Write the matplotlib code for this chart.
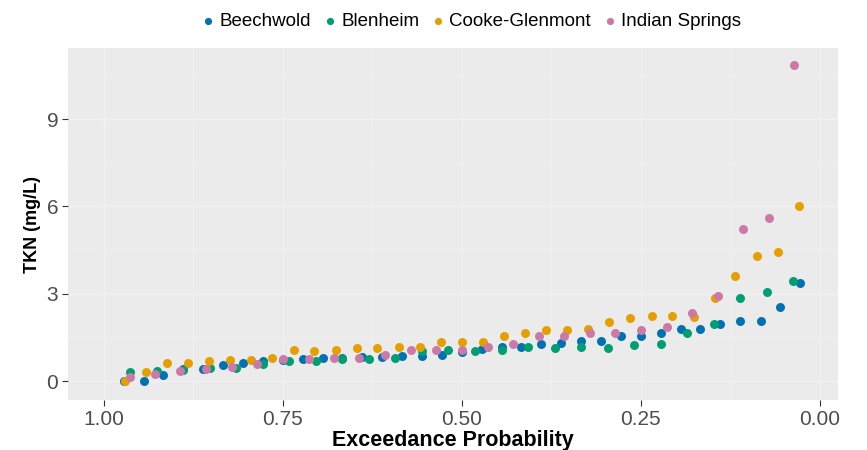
import numpy as np
import matplotlib
matplotlib.use("Agg")
import matplotlib.pyplot as plt
from matplotlib.ticker import MultipleLocator, FormatStrFormatter

plt.rcParams['font.family'] = ['Liberation Sans', 'DejaVu Sans']

sites = ["Beechwold", "Blenheim", "Cooke-Glenmont", "Indian Springs"]
colors = ["#0072B2", "#009E73", "#E69F00", "#CC79A7"]

# exceedance probability and TKN (mg/L) for each site
beech_p = [0.972, 0.944, 0.917, 0.889, 0.861, 0.833, 0.806, 0.778, 0.750, 0.722,
           0.694, 0.667, 0.639, 0.611, 0.583, 0.556, 0.528, 0.500, 0.472, 0.444,
           0.417, 0.389, 0.361, 0.333, 0.306, 0.278, 0.250, 0.222, 0.194, 0.167,
           0.139, 0.111, 0.083, 0.056, 0.028]
beech_tkn = [0.0, 0.0, 0.2, 0.4, 0.4, 0.55, 0.62, 0.69, 0.72, 0.76,
             0.79, 0.8, 0.83, 0.83, 0.86, 0.86, 0.9, 1.0, 1.1, 1.17,
             1.17, 1.27, 1.3, 1.37, 1.37, 1.55, 1.55, 1.65, 1.79, 1.79,
             1.96, 2.06, 2.06, 2.55, 3.38]

blen_p = [0.963, 0.926, 0.889, 0.852, 0.815, 0.778, 0.741, 0.704, 0.667, 0.630,
          0.593, 0.556, 0.519, 0.481, 0.444, 0.407, 0.370, 0.333, 0.296, 0.259,
          0.222, 0.185, 0.148, 0.111, 0.074, 0.037]
blen_tkn = [0.31, 0.34, 0.38, 0.45, 0.45, 0.58, 0.69, 0.69, 0.76, 0.76,
            0.79, 1.03, 1.07, 1.03, 1.07, 1.17, 1.14, 1.17, 1.14, 1.24,
            1.27, 1.65, 1.96, 2.86, 3.06, 3.44]

cooke_p = [0.971, 0.941, 0.912, 0.882, 0.853, 0.824, 0.794, 0.765, 0.735, 0.706,
           0.676, 0.647, 0.618, 0.588, 0.559, 0.529, 0.500, 0.471, 0.441, 0.412,
           0.382, 0.353, 0.324, 0.294, 0.265, 0.235, 0.206, 0.176, 0.147, 0.118,
           0.088, 0.059, 0.029]
cooke_tkn = [0.0, 0.31, 0.62, 0.62, 0.69, 0.72, 0.72, 0.79, 1.07, 1.03,
             1.07, 1.14, 1.14, 1.17, 1.17, 1.34, 1.34, 1.34, 1.55, 1.65,
             1.75, 1.75, 1.79, 2.03, 2.17, 2.24, 2.24, 2.2, 2.86, 3.61,
             4.30, 4.44, 6.02]

indian_p = [0.964, 0.929, 0.893, 0.857, 0.821, 0.786, 0.750, 0.714, 0.679, 0.643,
            0.607, 0.571, 0.536, 0.500, 0.464, 0.429, 0.393, 0.357, 0.321, 0.286,
            0.250, 0.214, 0.179, 0.143, 0.107, 0.071, 0.036]
indian_tkn = [0.14, 0.24, 0.34, 0.41, 0.48, 0.58, 0.76, 0.76, 0.79, 0.79,
              0.89, 1.07, 1.07, 1.07, 1.17, 1.27, 1.55, 1.55, 1.65, 1.65,
              1.75, 1.86, 2.34, 2.92, 5.23, 5.6, 10.87]

x_ticks = [1.00, 0.75, 0.50, 0.25, 0.00]
y_ticks = [0, 3, 6, 9]

fig = plt.figure(figsize=(8.67, 4.5), dpi=100)
ax = fig.add_axes([0.0784, 0.111, 0.888, 0.782])
ax.set_facecolor("#EBEBEB")

series = [(beech_p, beech_tkn), (blen_p, blen_tkn), (cooke_p, cooke_tkn), (indian_p, indian_tkn)]
for (p, v), name, c in zip(series, sites, colors):
    ax.scatter(p, v, s=42, color=c, label=name, zorder=3, linewidths=0)

ax.set_xlim(1.05, -0.025)
ax.set_ylim(-0.65, 11.44)
ax.set_xticks(x_ticks)
ax.xaxis.set_major_formatter(FormatStrFormatter('%.2f'))
ax.set_yticks(y_ticks)
ax.xaxis.set_minor_locator(MultipleLocator(0.125))
ax.yaxis.set_minor_locator(MultipleLocator(1.5))
ax.grid(which='major', color='white', linewidth=1.0, alpha=0.3)
ax.grid(which='minor', color='white', linewidth=0.5, alpha=0.3)
ax.set_axisbelow(True)
for s in ax.spines.values():
    s.set_visible(False)
ax.tick_params(which='major', length=4, color='#333333', labelsize=15, labelcolor='#4D4D4D', pad=3)
ax.tick_params(which='minor', length=0)

ax.set_xlabel("Exceedance Probability", fontsize=15.5, fontweight='bold', labelpad=1)
ax.set_ylabel("TKN (mg/L)", fontsize=13, fontweight='bold', labelpad=4)

fig.legend(loc='upper center', bbox_to_anchor=(0.543, 1.0), ncol=4, frameon=False,
           fontsize=13.5, handlelength=0.8, handletextpad=0.2, columnspacing=0.6,
           markerscale=0.8, borderaxespad=0.3)

fig.savefig("out.png", dpi=100)
